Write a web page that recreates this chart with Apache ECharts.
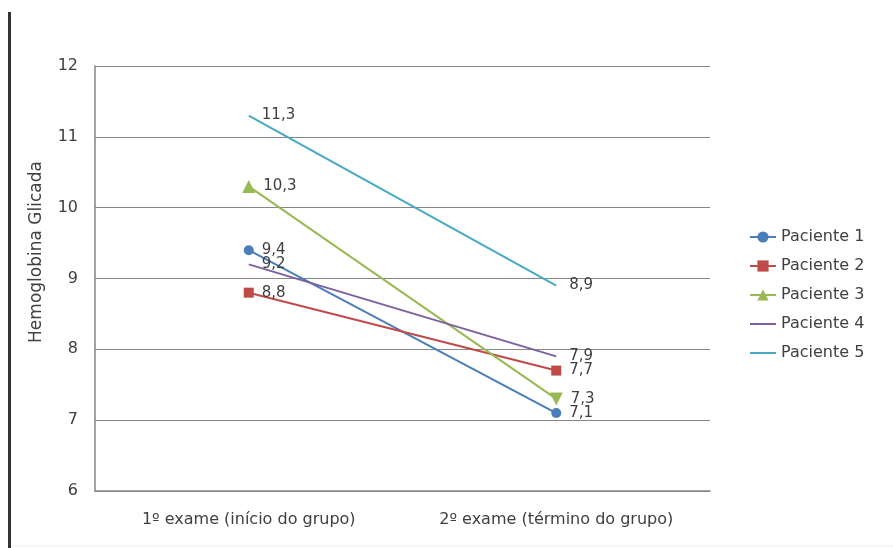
<!DOCTYPE html>
<html>
<head>
<meta charset="utf-8">
<script src="https://cdn.jsdelivr.net/npm/echarts@6/dist/echarts.min.js"></script>
<style>
  html, body { margin: 0; padding: 0; background: #fff; }
  #chart { width: 893px; height: 548px; }
</style>
</head>
<body>
<div id="chart"></div>
<script>
// Categories on the x axis
const exams = ['1º exame (início do grupo)', '2º exame (término do grupo)'];

// Glycated hemoglobin per patient, first and second exam
const paciente1 = [9.4, 7.1];
const paciente2 = [8.8, 7.7];
const paciente3 = [10.3, 7.3];
const paciente4 = [9.2, 7.9];
const paciente5 = [11.3, 8.9];

const names = ['Paciente 1', 'Paciente 2', 'Paciente 3', 'Paciente 4', 'Paciente 5'];
const colors = ['#4A7EBB', '#BE4B48', '#98B954', '#7D60A0', '#46AAC5'];

const textColor = '#404040';
const font = '"DejaVu Sans", "Noto Sans", sans-serif';

const fmt = p => String(p.value).replace('.', ',');

function makeSeries(name, values, color, symbol) {
  const hasMarker = !!symbol;
  const data = values.map((v, i) => {
    const d = { value: v };
    // second point of Paciente 3 is drawn as a downward triangle
    if (symbol === 'triangle' && i === 1) d.symbolRotate = 180;
    return d;
  });
  return {
    name: name,
    type: 'line',
    data: data,
    symbol: hasMarker ? symbol : 'circle',
    showSymbol: true,
    symbolSize: hasMarker ? (symbol === 'triangle' ? 13 : 10) : 0.1,
    color: color,
    lineStyle: { width: 2, color: color },
    itemStyle: { color: hasMarker ? color : 'rgba(0,0,0,0)' },
    label: {
      show: true,
      position: 'right',
      distance: hasMarker ? 8 : 13,
      formatter: fmt,
      color: textColor,
      fontFamily: font,
      fontSize: 15
    },
    emphasis: { disabled: true },
    animation: false
  };
}

const chart = echarts.init(document.getElementById('chart'));
chart.setOption({
  backgroundColor: '#fff',
  animation: false,
  grid: { left: 95, right: 183, top: 66, bottom: 57 },
  legend: {
    orient: 'vertical',
    left: 744,
    top: 224,
    itemGap: 13,
    itemWidth: 26,
    itemHeight: 14,
    textStyle: { color: textColor, fontFamily: font, fontSize: 16 },
    data: names
  },
  xAxis: {
    type: 'category',
    data: exams,
    boundaryGap: true,
    axisLine: { lineStyle: { color: '#868686', width: 1.5 } },
    axisTick: { show: false },
    axisLabel: { color: textColor, fontFamily: font, fontSize: 16, margin: 21 }
  },
  yAxis: {
    type: 'value',
    min: 6,
    max: 12,
    interval: 1,
    axisLine: { show: true, lineStyle: { color: '#868686', width: 1.5 } },
    axisTick: { show: false },
    splitLine: { lineStyle: { color: '#868686', width: 1.2 } },
    axisLabel: { color: textColor, fontFamily: font, fontSize: 16, margin: 17 }
  },
  graphic: [
    { type: 'rect', shape: { x: 8, y: 12, width: 3, height: 536 }, style: { fill: '#333' } },
    { type: 'line', shape: { x1: 11, y1: 546, x2: 893, y2: 546 }, style: { stroke: '#eeeeee', lineWidth: 1 } },
    {
      type: 'text',
      x: 37, y: 252,
      rotation: Math.PI / 2,
      style: {
        text: 'Hemoglobina Glicada',
        fill: textColor,
        font: '17px ' + font,
        textAlign: 'center',
        textVerticalAlign: 'middle'
      }
    }
  ],
  series: [
    makeSeries(names[0], paciente1, colors[0], 'circle'),
    makeSeries(names[1], paciente2, colors[1], 'rect'),
    makeSeries(names[2], paciente3, colors[2], 'triangle'),
    makeSeries(names[3], paciente4, colors[3], null),
    makeSeries(names[4], paciente5, colors[4], null)
  ]
});
</script>
</body>
</html>
